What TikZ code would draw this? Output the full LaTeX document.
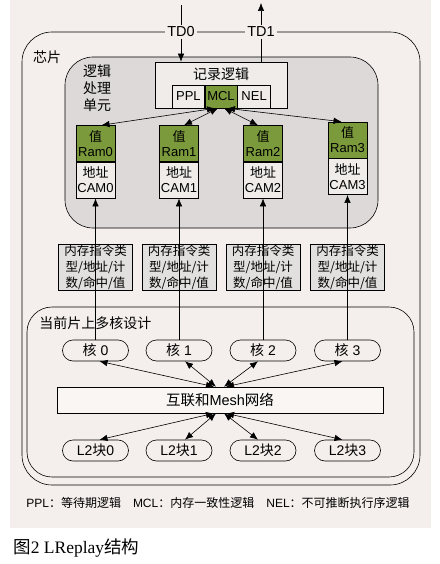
\documentclass[tikz,border=0pt]{standalone}
\usepackage{fontspec}
\setmainfont{Liberation Sans}
\newfontfamily\cjk{Noto Sans CJK SC}
\newfontfamily\capserif{Liberation Serif}
\newcommand{\zh}[1]{{\cjk #1}}
\usetikzlibrary{positioning, arrows.meta, shapes.misc}

\definecolor{panelbg}{HTML}{F4EFEC}
\definecolor{unitgray}{HTML}{DCD9D8}
\definecolor{ramgreen}{HTML}{7B9A3C}
\definecolor{camfill}{HTML}{EFECEA}
\definecolor{infofill}{HTML}{E2E0DF}
\definecolor{meshfill}{HTML}{F9F6F4}

\begin{document}
\begin{tikzpicture}[
    x=1pt, y=-1pt,
    line width=0.6pt,
    >={Latex[length=8pt,width=6.5pt]},
    frame/.style={draw, inner sep=0pt},
    lab/.style={inner sep=1pt, font=\fontsize{14}{17}\selectfont},
    tdlab/.style={fill=panelbg, inner sep=2pt, font=\fontsize{14.5}{17}\selectfont},
    sub/.style={draw, minimum width=32pt, minimum height=23pt, inner sep=0pt, font=\fontsize{13}{15}\selectfont},
    ram/.style={draw, fill=ramgreen, minimum width=39pt, minimum height=36pt, inner sep=0pt, align=center, font=\fontsize{13}{15}\selectfont},
    cam/.style={draw, fill=camfill, minimum width=39pt, minimum height=36pt, inner sep=0pt, align=center, font=\fontsize{13}{15}\selectfont},
    info/.style={draw, fill=infofill, minimum width=74pt, minimum height=46pt, inner sep=0pt, align=center, font=\fontsize{12.5}{16}\selectfont},
    core/.style={rounded rectangle, draw, fill=panelbg, minimum width=66pt, minimum height=21pt, inner sep=0pt, font=\fontsize{14}{16}\selectfont},
    ]
   \useasboundingbox (0,0) rectangle (439,564);

   % Frames
   \node[fill=panelbg, minimum width=421pt, minimum height=528pt, inner sep=0pt] (panel) at (220.5,264) {};
   \node[frame, rounded corners=30pt, minimum width=398pt, minimum height=453pt] (chip) at (221,258.5) {};
   \node[frame, fill=unitgray, rounded corners=28pt, minimum width=313pt, minimum height=171pt] (unit) at (221.5,142.5) {};
   \node[frame, rounded corners=25pt, minimum width=387pt, minimum height=170pt] (multi) at (220.5,392) {};

   \node[lab] (chip_l) at (47,57) {\zh{芯片}};
   \node[lab, align=center] (unit_l) at (97,88) {\zh{逻辑}\\\zh{处理}\\\zh{单元}};
   \node[lab, anchor=west] (multi_l) at (38,323) {\zh{当前片上多核设计}};

   % Record logic
   \node[draw, fill=camfill, minimum width=132pt, minimum height=46pt] (rec) at (221,85) {};
   \node[lab] (rec_t) at (221,74) {\zh{记录逻辑}};
   \node[sub, fill=ramgreen] (mcl) at (221,96.5) {MCL};
   \node[sub, left=0pt of mcl] (ppl) {PPL};
   \node[sub, right=0pt of mcl, minimum width=33pt] (nel) {NEL};

   % TD0 / TD1
   \coordinate (td0_in) at (181,5);
   \coordinate (td1_out) at (261,3);
   \node[tdlab] (td0) at (181,32) {TD0};
   \node[tdlab] (td1) at (261,32) {TD1};
   \draw (td0_in) -- (td0);
   \draw[->] (td0) -- (td0 |- rec.north);
   \draw (td1 |- rec.north) -- (td1);
   \draw[->] (td1) -- (td1_out);

   % Ram / CAM
   \node[ram] (ram0) at (95.5,143.5) {\zh{值}\\Ram0};
   \node[cam, below=0pt of ram0] (cam0) {\zh{地址}\\CAM0};
   \node[ram] (ram1) at (179,143.5) {\zh{值}\\Ram1};
   \node[cam, below=0pt of ram1] (cam1) {\zh{地址}\\CAM1};
   \node[ram] (ram2) at (263,143.5) {\zh{值}\\Ram2};
   \node[cam, below=0pt of ram2] (cam2) {\zh{地址}\\CAM2};
   \node[ram] (ram3) at (347.5,140) {\zh{值}\\Ram3};
   \node[cam, below=0pt of ram3] (cam3) {\zh{地址}\\CAM3};

   \draw[<->] ([xshift=-6pt]mcl.south) -- ([xshift=6pt]ram0.north);
   \draw[<->] ([xshift=-3pt]mcl.south) -- ([xshift=5pt]ram1.north);
   \draw[<->] ([xshift=3pt]mcl.south) -- ([xshift=-5pt]ram2.north);
   \draw[<->] ([xshift=6pt]mcl.south) -- ([xshift=-6pt]ram3.north);

   % Trace info
   \node[info] (info0) at (95.5,267) {\zh{内存指令类}\\\zh{型/地址/计}\\\zh{数/命中/值}};
   \node[info] (info1) at (179,267) {\zh{内存指令类}\\\zh{型/地址/计}\\\zh{数/命中/值}};
   \node[info] (info2) at (263,267) {\zh{内存指令类}\\\zh{型/地址/计}\\\zh{数/命中/值}};
   \node[info] (info3) at (347.5,267) {\zh{内存指令类}\\\zh{型/地址/计}\\\zh{数/命中/值}};

   % Cores, mesh, L2
   \node[core] (core0) at (95.5,350.5) {\zh{核} 0};
   \node[core] (core1) at (179,350.5) {\zh{核} 1};
   \node[core] (core2) at (263,350.5) {\zh{核} 2};
   \node[core] (core3) at (347.5,350.5) {\zh{核} 3};

   \node[draw, fill=meshfill, minimum width=326pt, minimum height=26pt, font=\fontsize{14.5}{16}\selectfont] (mesh) at (220,400) {\zh{互联和}Mesh\zh{网络}};

   \node[core] (l2_0) at (95.5,450.5) {L2\zh{块}0};
   \node[core] (l2_1) at (179,450.5) {L2\zh{块}1};
   \node[core] (l2_2) at (263,450.5) {L2\zh{块}2};
   \node[core] (l2_3) at (347.5,450.5) {L2\zh{块}3};

   \draw[->] (core0.north) -- (cam0.south);
   \draw[->] (core1.north) -- (cam1.south);
   \draw[->] (core2.north) -- (cam2.south);
   \draw[->] (core3.north) -- (cam3.south);

   \draw[<->] ([xshift=-6pt]mesh.north) -- ([xshift=4pt]core0.south);
   \draw[<->] ([xshift=-4pt]mesh.north) -- ([xshift=6pt]core1.south);
   \draw[<->] ([xshift=4pt]mesh.north) -- ([xshift=-5pt]core2.south);
   \draw[<->] ([xshift=6pt]mesh.north) -- ([xshift=-5pt]core3.south);

   \draw[<->] ([xshift=-6pt]mesh.south) -- ([xshift=4pt]l2_0.north);
   \draw[<->] ([xshift=-4pt]mesh.south) -- ([xshift=6pt]l2_1.north);
   \draw[<->] ([xshift=4pt]mesh.south) -- ([xshift=-5pt]l2_2.north);
   \draw[<->] ([xshift=6pt]mesh.south) -- ([xshift=-5pt]l2_3.north);

   % Legend and caption
   \node[font=\fontsize{12}{14}\selectfont] (legend) at (218,503) {PPL\zh{：等待期逻辑}\quad MCL\zh{：内存一致性逻辑}\quad NEL\zh{：不可推断执行序逻辑}};
   \node[anchor=west, inner sep=0pt, font=\fontsize{17.5}{20}\selectfont] (caption) at (13,548) {\zh{图}{\capserif 2 LReplay}\zh{结构}};
\end{tikzpicture}
\end{document}
